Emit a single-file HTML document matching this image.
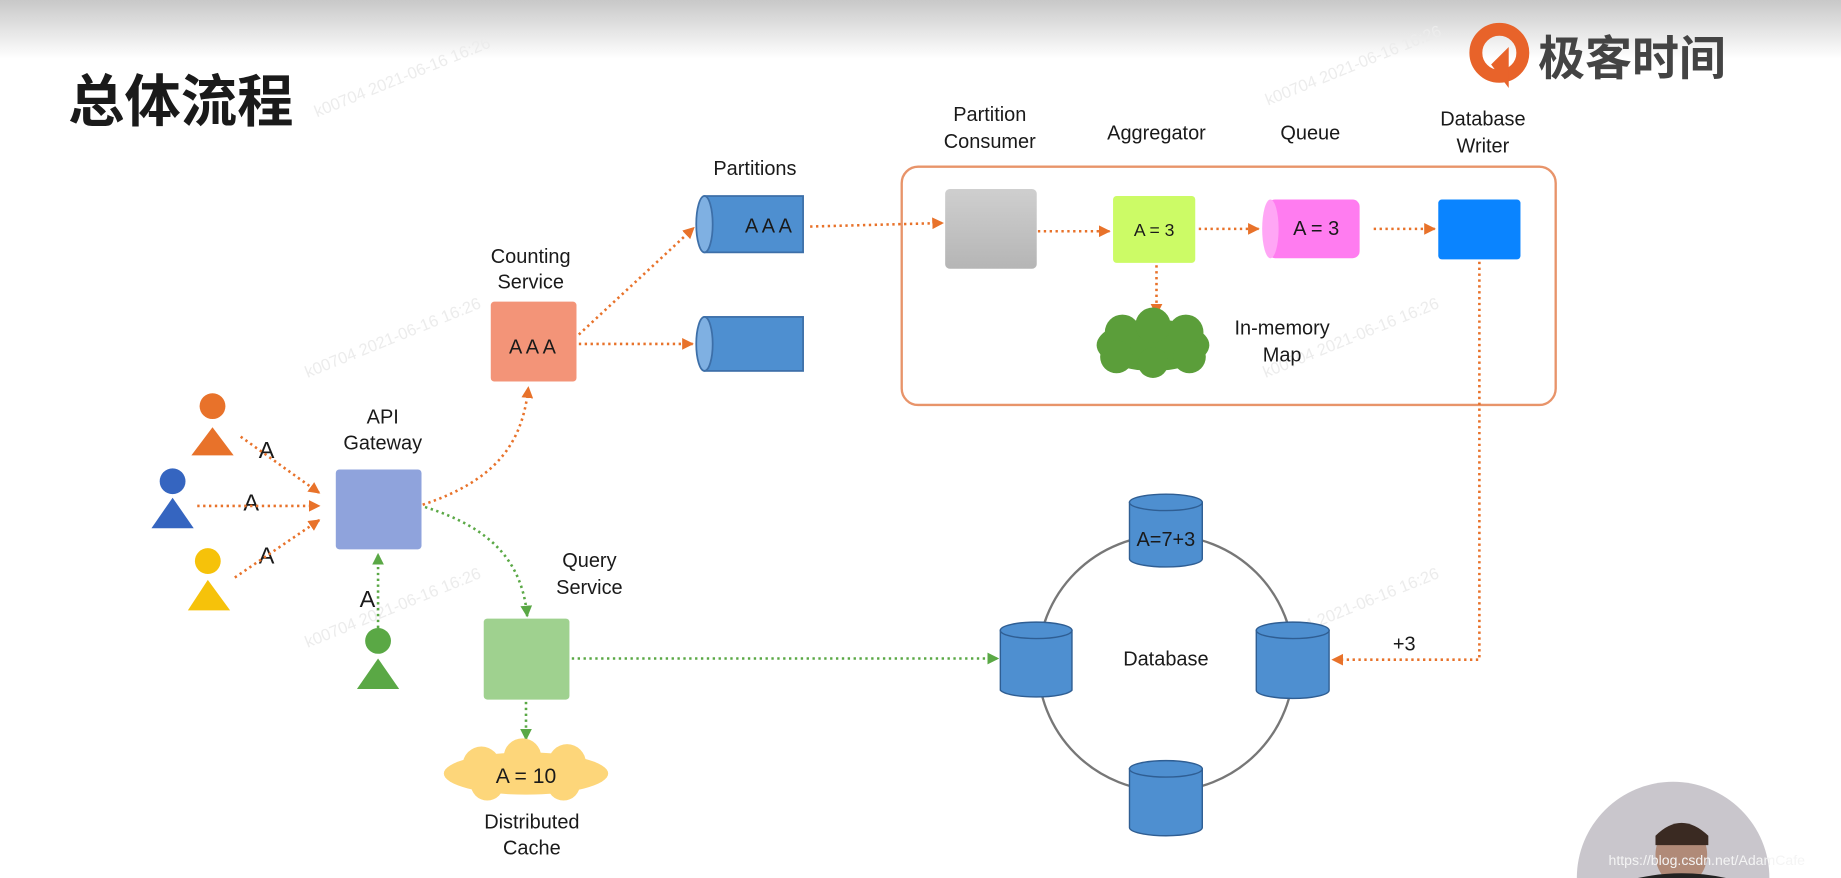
<!DOCTYPE html>
<html><head><meta charset="utf-8"><style>
html,body{margin:0;padding:0;background:#fff;overflow:hidden;width:1841px;height:878px}
svg{display:block}
text{font-family:"Liberation Sans","Noto Sans CJK SC",sans-serif;fill:#1a1a1a}
text.wm{fill:#ececec}
text.url{fill:#f4f4f4}
</style></head><body>
<svg width="1841" height="878" viewBox="0 0 1568 748" preserveAspectRatio="none" xmlns="http://www.w3.org/2000/svg">
<defs>
<linearGradient id="top" x1="0" y1="0" x2="0" y2="1"><stop offset="0" stop-color="#c8c8c8"/><stop offset="1" stop-color="#ffffff"/></linearGradient>
<linearGradient id="gray" x1="0" y1="0" x2="0" y2="1"><stop offset="0" stop-color="#cfcfcf"/><stop offset="1" stop-color="#b5b5b5"/></linearGradient>
<marker id="ao" markerWidth="10" markerHeight="10" refX="9" refY="5" orient="auto" markerUnits="userSpaceOnUse"><path d="M0,0 L10,5 L0,10 z" fill="#e8722a"/></marker>
<marker id="ag" markerWidth="10" markerHeight="10" refX="9" refY="5" orient="auto" markerUnits="userSpaceOnUse"><path d="M0,0 L10,5 L0,10 z" fill="#5aa845"/></marker>
</defs>
<rect x="0" y="0" width="1568" height="50" fill="url(#top)"/>

<!-- watermarks -->
<g font-size="14">
<text class="wm" x="270" y="100" transform="rotate(-22 270 100)">k00704 2021-06-16 16:26</text>
<text class="wm" x="1080" y="90" transform="rotate(-22 1080 90)">k00704 2021-06-16 16:26</text>
<text class="wm" x="262" y="322" transform="rotate(-22 262 322)">k00704 2021-06-16 16:26</text>
<text class="wm" x="1078" y="322" transform="rotate(-22 1078 322)">k00704 2021-06-16 16:26</text>
<text class="wm" x="262" y="552" transform="rotate(-22 262 552)">k00704 2021-06-16 16:26</text>
<text class="wm" x="1078" y="552" transform="rotate(-22 1078 552)">k00704 2021-06-16 16:26</text>
</g>

<text x="58" y="103" font-size="48" font-weight="bold" fill="#111">总体流程</text>
<!-- logo -->
<circle cx="1277" cy="45" r="20" fill="none" stroke="#e8632a" stroke-width="11"/>
<path d="M1270,55 L1285,40 L1285,75 z" fill="#e8632a"/>
<text x="1310" y="64" font-size="40" font-weight="bold" style="fill:#444">极客时间</text>

<g font-size="17" text-anchor="middle">
<text x="643" y="149">Partitions</text>
<text x="452" y="224">Counting</text><text x="452" y="246">Service</text>
<text x="843" y="103">Partition</text><text x="843" y="126">Consumer</text>
<text x="985" y="119">Aggregator</text>
<text x="1116" y="119">Queue</text>
<text x="1263" y="107">Database</text><text x="1263" y="130">Writer</text>
<text x="1092" y="285">In-memory</text><text x="1092" y="308">Map</text>
<text x="326" y="361">API</text><text x="326" y="383">Gateway</text>
<text x="502" y="483">Query</text><text x="502" y="506">Service</text>
<text x="453" y="706">Distributed</text><text x="453" y="728">Cache</text>
<text x="993" y="567">Database</text>
<text x="1196" y="554">+3</text>
</g>
<g font-size="20" text-anchor="middle">
<text x="227" y="390">A</text><text x="214" y="435">A</text><text x="227" y="480">A</text><text x="313" y="517">A</text>
</g>

<rect x="768" y="142" width="557" height="203" rx="14" fill="none" stroke="#e8946a" stroke-width="2"/>

<g stroke="#e8722a" stroke-width="2.2" stroke-dasharray="2,3" fill="none">
<line x1="205" y1="372" x2="272" y2="420" marker-end="url(#ao)"/>
<line x1="168" y1="431" x2="272" y2="431" marker-end="url(#ao)"/>
<line x1="200" y1="492" x2="272" y2="443" marker-end="url(#ao)"/>
<path d="M360,430 C420,410 445,380 450,330" marker-end="url(#ao)"/>
<line x1="493" y1="285" x2="591" y2="194" marker-end="url(#ao)"/>
<line x1="493" y1="293" x2="590" y2="293" marker-end="url(#ao)"/>
<line x1="690" y1="193" x2="803" y2="190" marker-end="url(#ao)"/>
<line x1="884" y1="197" x2="945" y2="197" marker-end="url(#ao)"/>
<line x1="1021" y1="195" x2="1072" y2="195" marker-end="url(#ao)"/>
<line x1="1170" y1="195" x2="1222" y2="195" marker-end="url(#ao)"/>
<line x1="985" y1="226" x2="985" y2="268" marker-end="url(#ao)"/>
<path d="M1260,223 L1260,562 L1135,562" marker-end="url(#ao)"/>
</g>
<g stroke="#5aa845" stroke-width="2.2" stroke-dasharray="2,3" fill="none">
<path d="M362,432 C420,450 445,480 449,525" marker-end="url(#ag)"/>
<line x1="322" y1="535" x2="322" y2="472" marker-end="url(#ag)"/>
<line x1="487" y1="561" x2="850" y2="561" marker-end="url(#ag)"/>
<line x1="448" y1="598" x2="448" y2="630" marker-end="url(#ag)"/>
</g>

<circle cx="993" cy="565" r="109" fill="none" stroke="#777" stroke-width="2"/>

<g stroke="#3d6fa8" stroke-width="1.5">
<rect x="600" y="167" width="84" height="48" fill="#4e8fd0"/><ellipse cx="600" cy="191" rx="7" ry="24" fill="#7fb0e2"/>
<rect x="600" y="270" width="84" height="46" fill="#4e8fd0"/><ellipse cx="600" cy="293" rx="7" ry="23" fill="#7fb0e2"/>
</g>
<text x="656" y="198" font-size="17" text-anchor="middle" letter-spacing="3">AAA</text>

<rect x="418" y="257" width="73" height="68" rx="3" fill="#f39478"/>
<text x="455" y="301" font-size="17" text-anchor="middle" letter-spacing="3">AAA</text>

<rect x="805" y="161" width="78" height="68" rx="4" fill="url(#gray)"/>
<rect x="948" y="167" width="70" height="57" rx="3" fill="#ccfb66"/>
<text x="983" y="201" font-size="15" text-anchor="middle">A = 3</text>
<rect x="1080" y="170" width="78" height="50" rx="6" fill="#ff7cf0"/>
<ellipse cx="1082" cy="195" rx="7" ry="25" fill="#ffa6f5"/>
<text x="1121" y="200" font-size="17" text-anchor="middle">A = 3</text>
<rect x="1225" y="170" width="70" height="51" rx="3" fill="#0a84ff"/>
<g fill="#5b9e3a">
<ellipse cx="982" cy="294" rx="48" ry="22"/>
<circle cx="956" cy="283" r="15"/><circle cx="982" cy="277" r="15"/><circle cx="1010" cy="283" r="15"/>
<circle cx="951" cy="304" r="14"/><circle cx="982" cy="309" r="13"/><circle cx="1013" cy="304" r="14"/>
</g>

<circle cx="181" cy="346" r="11" fill="#e8722a"/><path d="M181,364 L163,388 L199,388 z" fill="#e8722a"/>
<circle cx="147" cy="410" r="11" fill="#3565c0"/><path d="M147,424 L129,450 L165,450 z" fill="#3565c0"/>
<circle cx="177" cy="478" r="11" fill="#f6c20a"/><path d="M177,494 L160,520 L196,520 z" fill="#f6c20a"/>
<circle cx="322" cy="546" r="11" fill="#5aa845"/><path d="M322,561 L304,587 L340,587 z" fill="#5aa845"/>

<rect x="286" y="400" width="73" height="68" rx="3" fill="#8fa3dc"/>
<rect x="412" y="527" width="73" height="69" rx="3" fill="#9fd18f"/>

<g fill="#fdd67a">
<ellipse cx="448" cy="659" rx="70" ry="18"/>
<circle cx="410" cy="652" r="16"/><circle cx="445" cy="645" r="16"/><circle cx="483" cy="650" r="16"/>
<circle cx="415" cy="668" r="14"/><circle cx="480" cy="668" r="14"/>
</g>
<text x="448" y="667" font-size="18" text-anchor="middle">A = 10</text>

<g stroke="#2f5e93" stroke-width="1.2" fill="#4e8fd0">
<path d="M962,428 L962,476 A31,7 0 0 0 1024,476 L1024,428 z"/><ellipse cx="993" cy="428" rx="31" ry="7"/>
<path d="M852,537 L852,588 A31,7 0 0 0 913,588 L913,537 z"/><ellipse cx="882.5" cy="537" rx="30.5" ry="7"/>
<path d="M1070,537 L1070,588 A31,7 0 0 0 1132,588 L1132,537 z"/><ellipse cx="1101" cy="537" rx="31" ry="7"/>
<path d="M962,655 L962,705 A31,7 0 0 0 1024,705 L1024,655 z"/><ellipse cx="993" cy="655" rx="31" ry="7"/>
</g>
<text x="993" y="465" font-size="17" text-anchor="middle">A=7+3</text>

<ellipse cx="1425" cy="748" rx="82" ry="82" fill="#c9c6cc"/>
<ellipse cx="1432" cy="728" rx="22" ry="26" fill="#b08a78"/>
<path d="M1410,712 Q1432,690 1455,712 L1455,720 L1410,720 z" fill="#3a2a22"/>
<path d="M1395,748 Q1432,740 1470,748 z" fill="#222"/>
<text class="url" x="1370" y="737" font-size="12">https://blog.csdn.net/AdamCafe</text>
</svg>
</body></html>
